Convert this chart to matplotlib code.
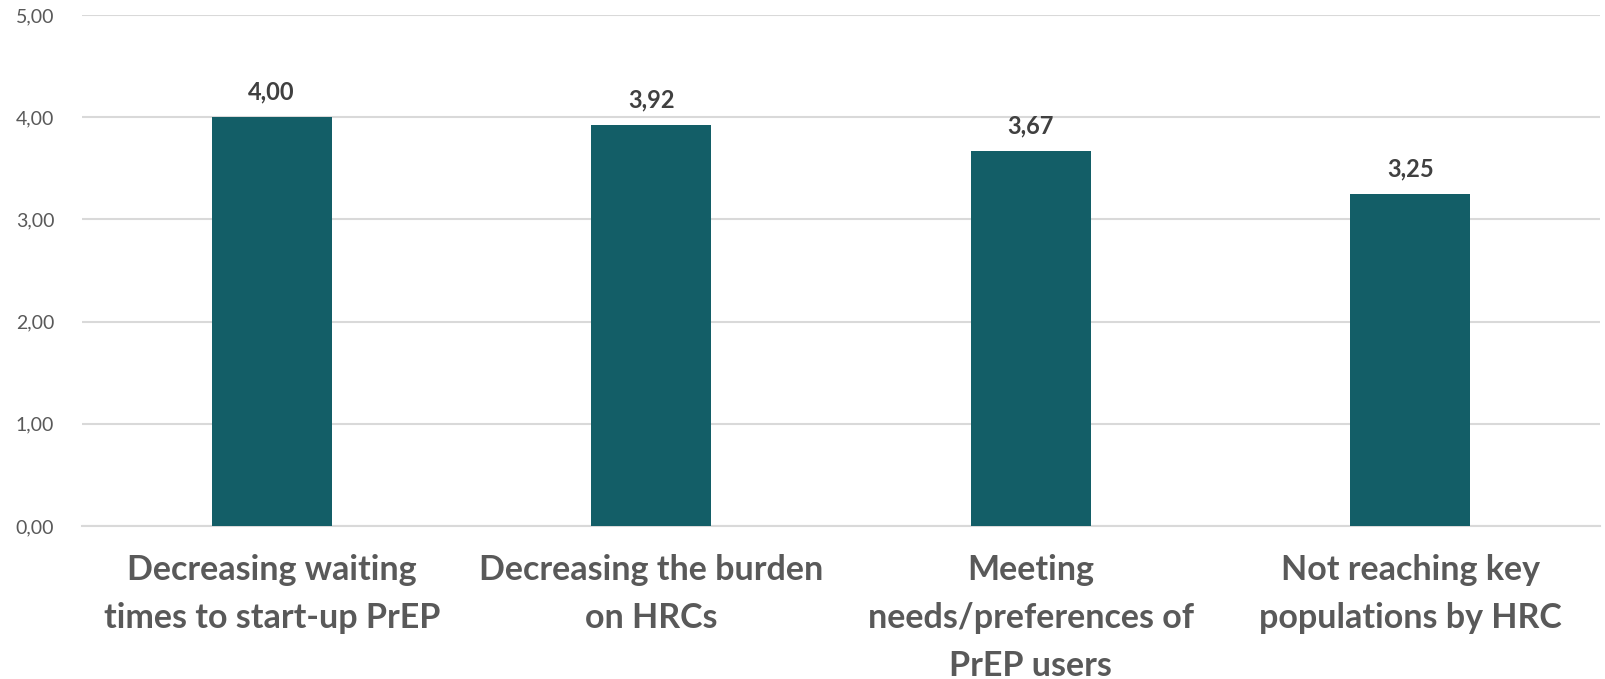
import matplotlib
matplotlib.use("Agg")
import matplotlib.pyplot as plt

categories = ["Decreasing waiting\ntimes to start-up PrEP",
              "Decreasing the burden\non HRCs",
              "Meeting\nneeds/preferences of\nPrEP users",
              "Not reaching key\npopulations by HRC"]
values = [4.00, 3.92, 3.67, 3.25]
yticks = [0, 1, 2, 3, 4, 5]

plt.rcParams['font.family'] = ['Lato', 'DejaVu Sans']

fig = plt.figure(figsize=(16.06, 6.79), dpi=100)
ax = fig.add_axes([82/1606, 153/679, 1518/1606, 511/679])

x = list(range(len(categories)))
bars = ax.bar(x, values, width=0.316, color="#135E67", zorder=3)
ax.set_xlim(-0.5, len(categories) - 0.5)
ax.set_ylim(0, 5)
ax.set_yticks(yticks)
ax.set_yticklabels([f"{v:.2f}".replace(".", ",") for v in yticks],
                   fontsize=14, color="#595959")
ax.yaxis.grid(True, color="#D9D9D9", linewidth=1.5, zorder=0)
ax.tick_params(axis="y", length=0, pad=20)
ax.tick_params(axis="x", length=0, pad=20)
ax.set_xticks(x)
ax.set_xticklabels(categories, fontsize=24.5, fontweight="bold", color="#595959",
                   linespacing=1.62)
for s in ["top", "right", "left"]:
    ax.spines[s].set_visible(False)
ax.spines["bottom"].set_color("#D9D9D9")
ax.spines["bottom"].set_linewidth(1.5)

for b, v in zip(bars, values):
    ax.annotate(f"{v:.2f}".replace(".", ","),
                (b.get_x() + b.get_width() / 2, v),
                xytext=(0, 10), textcoords="offset points",
                ha="center", va="bottom", fontsize=17, fontweight="bold",
                color="#404040")

fig.savefig("out.png", dpi=100)
